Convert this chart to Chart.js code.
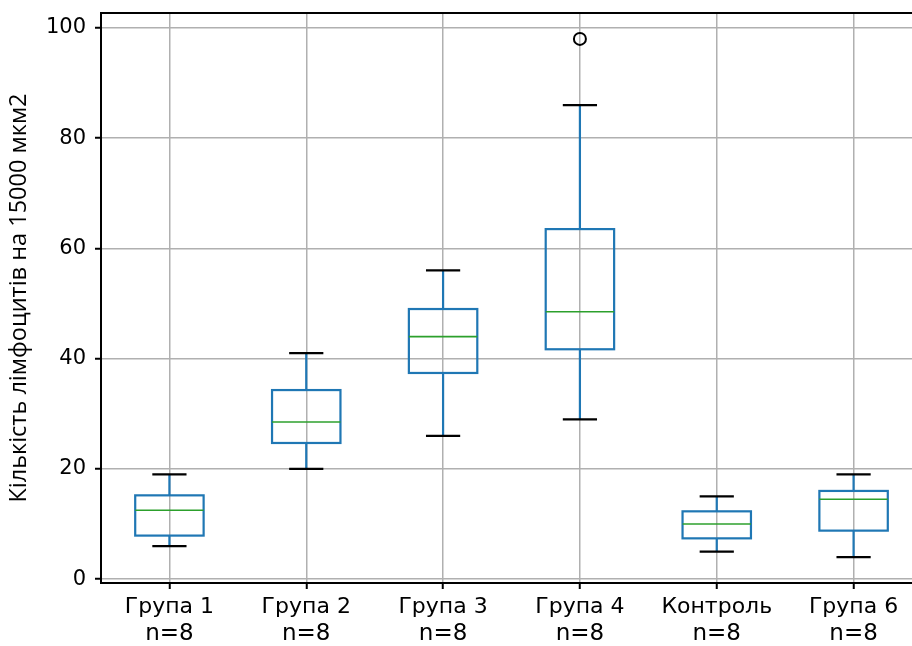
<!DOCTYPE html>
<html><head><meta charset="utf-8">
<script src="https://cdn.jsdelivr.net/npm/chart.js@4.4.0/dist/chart.umd.min.js"></script>
<style>
html,body{margin:0;padding:0;background:#fff;overflow:hidden;width:912px;height:646px}
#wrap{position:absolute;left:0;top:0;width:930px;height:646px}
</style>
</head><body><div id="wrap"><canvas id="c" width="930" height="646"></canvas></div>
<script>
const categories = ['Група 1', 'Група 2', 'Група 3', 'Група 4', 'Контроль', 'Група 6'];
const counts = ['n=8', 'n=8', 'n=8', 'n=8', 'n=8', 'n=8'];
const whiskerLow  = [6, 20, 26, 29, 5, 4];
const q1          = [7.9, 24.7, 37.4, 41.7, 7.4, 8.8];
const medians     = [12.5, 28.5, 44, 48.5, 10, 14.5];
const q3          = [15.2, 34.3, 49, 63.5, 12.3, 16];
const whiskerHigh = [19, 41, 56, 86, 15, 19];
const outliers    = [[], [], [], [98], [], []];
const yTicks = [0, 20, 40, 60, 80, 100];
const yTitle = 'Кількість лімфоцитів на 15000 мкм2';

const outlierPoints = [];
outliers.forEach((arr, i) => arr.forEach(v => outlierPoints.push({x: i + 1, y: v})));

const boxPlugin = {
  id: 'boxes',
  afterDatasetsDraw(chart) {
    const ctx = chart.ctx, xs = chart.scales.x, ys = chart.scales.y;
    ctx.save();
    categories.forEach((c, i) => {
      const xc = xs.getPixelForValue(i + 1);
      const xl = xs.getPixelForValue(i + 1 - 0.25), xr = xs.getPixelForValue(i + 1 + 0.25);
      const cl = xs.getPixelForValue(i + 1 - 0.125), cr = xs.getPixelForValue(i + 1 + 0.125);
      const yq1 = ys.getPixelForValue(q1[i]), yq3 = ys.getPixelForValue(q3[i]);
      const ylo = ys.getPixelForValue(whiskerLow[i]), yhi = ys.getPixelForValue(whiskerHigh[i]);
      const ym = ys.getPixelForValue(medians[i]);
      ctx.lineWidth = 2.2;
      ctx.strokeStyle = '#1f77b4';
      ctx.beginPath();
      ctx.moveTo(xc, yq1); ctx.lineTo(xc, ylo);
      ctx.moveTo(xc, yq3); ctx.lineTo(xc, yhi);
      ctx.stroke();
      ctx.strokeRect(xl, yq3, xr - xl, yq1 - yq3);
      ctx.strokeStyle = '#000';
      ctx.beginPath();
      ctx.moveTo(cl, ylo); ctx.lineTo(cr, ylo);
      ctx.moveTo(cl, yhi); ctx.lineTo(cr, yhi);
      ctx.stroke();
      ctx.strokeStyle = '#2ca02c';
      ctx.lineWidth = 1.6;
      ctx.beginPath();
      ctx.moveTo(xl, ym); ctx.lineTo(xr, ym);
      ctx.stroke();
    });
    const a = chart.chartArea;
    ctx.strokeStyle = '#000';
    ctx.lineWidth = 2;
    ctx.beginPath();
    ctx.moveTo(a.left - 1, a.top); ctx.lineTo(a.right, a.top);
    ctx.stroke();
    ctx.fillStyle = '#000';
    ctx.font = '23px "DejaVu Sans"';
    ctx.textAlign = 'center';
    ctx.textBaseline = 'middle';
    counts.forEach((t, i) => ctx.fillText(t, xs.getPixelForValue(i + 1), 634));
    ctx.restore();
  }
};

new Chart(document.getElementById('c'), {
  type: 'scatter',
  data: {
    datasets: [{
      data: outlierPoints,
      pointRadius: 6,
      pointBorderWidth: 2,
      pointBorderColor: '#000',
      pointBackgroundColor: 'rgba(0,0,0,0)'
    }]
  },
  options: {
    responsive: false,
    animation: false,
    devicePixelRatio: 1,
    layout: {padding: {top: 13, right: 8, left: 0, bottom: 0}},
    plugins: {legend: {display: false}, tooltip: {enabled: false}},
    scales: {
      x: {
        type: 'linear', min: 0.5, max: 6.5,
        afterBuildTicks: s => { s.ticks = categories.map((c, i) => ({value: i + 1})); },
        afterFit: s => { s.height = 63; s.paddingLeft = 0; s.paddingRight = 0; },
        ticks: {
          callback: (v, i) => categories[i],
          font: {family: 'DejaVu Sans', size: 22}, color: '#000', padding: 5,
          maxRotation: 0, autoSkip: false
        },
        grid: {color: '#b0b0b0', lineWidth: 1.5, tickLength: 6, tickColor: '#000', tickWidth: 2},
        border: {color: '#000', width: 2}
      },
      y: {
        min: -0.7, max: 102.7,
        afterBuildTicks: s => { s.ticks = yTicks.map(v => ({value: v})); },
        afterFit: s => { s.width = 101; s.paddingTop = 0; s.paddingBottom = 0; },
        ticks: {font: {family: 'DejaVu Sans', size: 21}, color: '#000', padding: 9},
        grid: {color: '#b0b0b0', lineWidth: 1.5, tickLength: 6, tickColor: '#000', tickWidth: 2},
        border: {color: '#000', width: 2},
        title: {display: true, text: yTitle, font: {family: 'Open Sans', size: 23.5}, color: '#000', padding: {top: 5, bottom: 0}}
      }
    }
  },
  plugins: [boxPlugin]
});
</script>
</body></html>
